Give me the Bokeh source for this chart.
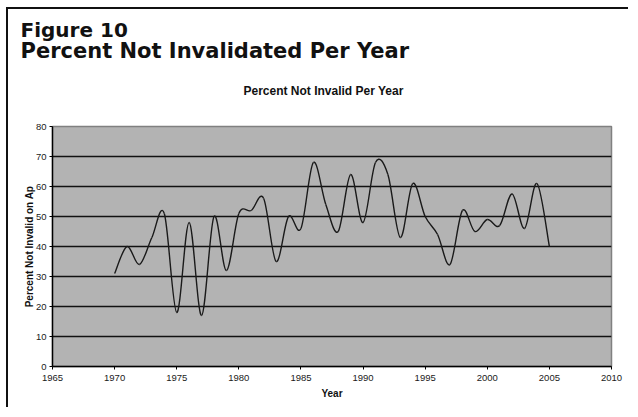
import numpy as np
from bokeh.plotting import figure
from bokeh.models import Title, FixedTicker, Range1d, InlineStyleSheet
from bokeh.embed import file_html
from bokeh.resources import INLINE

# Share of decisions not invalidated, by year
years = list(range(1970, 2006))
percent_not_invalid = [31, 40, 34, 43, 51, 18, 48, 17, 50, 32,
                       51, 52, 56, 35, 50, 46, 68, 54, 45, 64,
                       48, 68, 64, 43, 61, 50, 44, 34, 52, 45,
                       49, 47, 57.5, 46, 61, 40]

x_ticks = list(range(1965, 2011, 5))
y_ticks = list(range(0, 81, 10))

# canvas placed below/right of the page rule, kept inside the window
OX, OY = 8, 9
W, H = 638 - OX - 8, 417 - OY - 8
# frame edges on the page (px)
FL, FR, FT, FB = 52, 611, 126, 366

p = figure(width=W, height=H, output_backend="svg", toolbar_location=None,
           x_range=Range1d(1965, 2010), y_range=Range1d(0, 80),
           min_border_left=FL - OX, min_border_right=W - (FR - OX),
           min_border_top=FT - OY, min_border_bottom=H - (FB - OY))

# page rule along the top and left edge (a shadow, so the layout is untouched)
p.stylesheets = [InlineStyleSheet(css=(
    f":host {{ margin-left: {OX}px; margin-top: {OY}px; "
    "box-shadow: -2px -2px 0 0 #111111; }"))]

p.background_fill_color = "#b3b3b3"
p.border_fill_color = "white"
p.outline_line_color = "#808080"
p.outline_line_width = 1.5

# smoothed line: cubic Bezier segments with Catmull-Rom style handles
xs = np.array(years, dtype=float)
ys = np.array(percent_not_invalid, dtype=float)
xp = np.concatenate([[xs[0]], xs, [xs[-1]]])
yp = np.concatenate([[ys[0]], ys, [ys[-1]]])
x0, y0 = xs[:-1], ys[:-1]
x1, y1 = xs[1:], ys[1:]
cx0 = x0 + (xp[2:-1] - xp[:-3]) / 6.0
cy0 = y0 + (yp[2:-1] - yp[:-3]) / 6.0
cx1 = x1 - (xp[3:] - xp[1:-2]) / 6.0
cy1 = y1 - (yp[3:] - yp[1:-2]) / 6.0
p.bezier(x0=x0, y0=y0, x1=x1, y1=y1, cx0=cx0, cy0=cy0, cx1=cx1, cy1=cy1,
         line_color="#1a1a1a", line_width=1.4)

# horizontal gridlines
p.xgrid.visible = False
p.ygrid.ticker = FixedTicker(ticks=y_ticks[1:-1])
p.ygrid.grid_line_color = "#111111"
p.ygrid.grid_line_width = 1.4

tick_font = "Liberation Sans"
for ax, ticks in ((p.xaxis[0], x_ticks), (p.yaxis[0], y_ticks)):
    ax.ticker = FixedTicker(ticks=ticks)
    ax.axis_line_color = "black"
    ax.axis_line_width = 1.4
    ax.major_tick_line_color = "black"
    ax.major_tick_in = 0
    ax.major_tick_out = 3
    ax.minor_tick_line_color = None
    ax.major_label_text_font = tick_font
    ax.major_label_text_font_size = "9.5px"
    ax.major_label_text_color = "#1a1a1a"
    ax.axis_label_text_font = tick_font
    ax.axis_label_text_font_style = "bold"
    ax.axis_label_text_color = "#111111"

p.xaxis.major_label_standoff = 5
p.xaxis.axis_label = "Year"
p.xaxis.axis_label_text_font_size = "10px"
p.xaxis.axis_label_standoff = 4

p.yaxis.major_label_standoff = 3
p.yaxis.axis_label = "Percent Not Invalid on Ap"
p.yaxis.axis_label_text_font_size = "10px"
p.yaxis.axis_label_standoff = -2

head_font = "DejaVu Sans"

# outermost heading line
p.title.text = "Figure 10"
p.title.align = "left"
p.title.offset = 20 - FL
p.title.text_font = head_font
p.title.text_font_style = "bold"
p.title.text_font_size = "20px"
p.title.text_color = "#111111"
p.title.standoff = 11

# chart title nearest the frame, then the second heading line above it
p.add_layout(Title(text="Percent Not Invalid Per Year", align="left",
                   offset=243 - FL, text_font=tick_font, text_font_style="bold",
                   text_font_size="12px", text_color="#111111", standoff=58),
             "above")
p.add_layout(Title(text="Percent Not Invalidated Per Year", align="left",
                   offset=20 - FL, text_font=head_font, text_font_style="bold",
                   text_font_size="21px", text_color="#111111", standoff=-21),
             "above")

open("out.html", "w").write(file_html(p, INLINE))
